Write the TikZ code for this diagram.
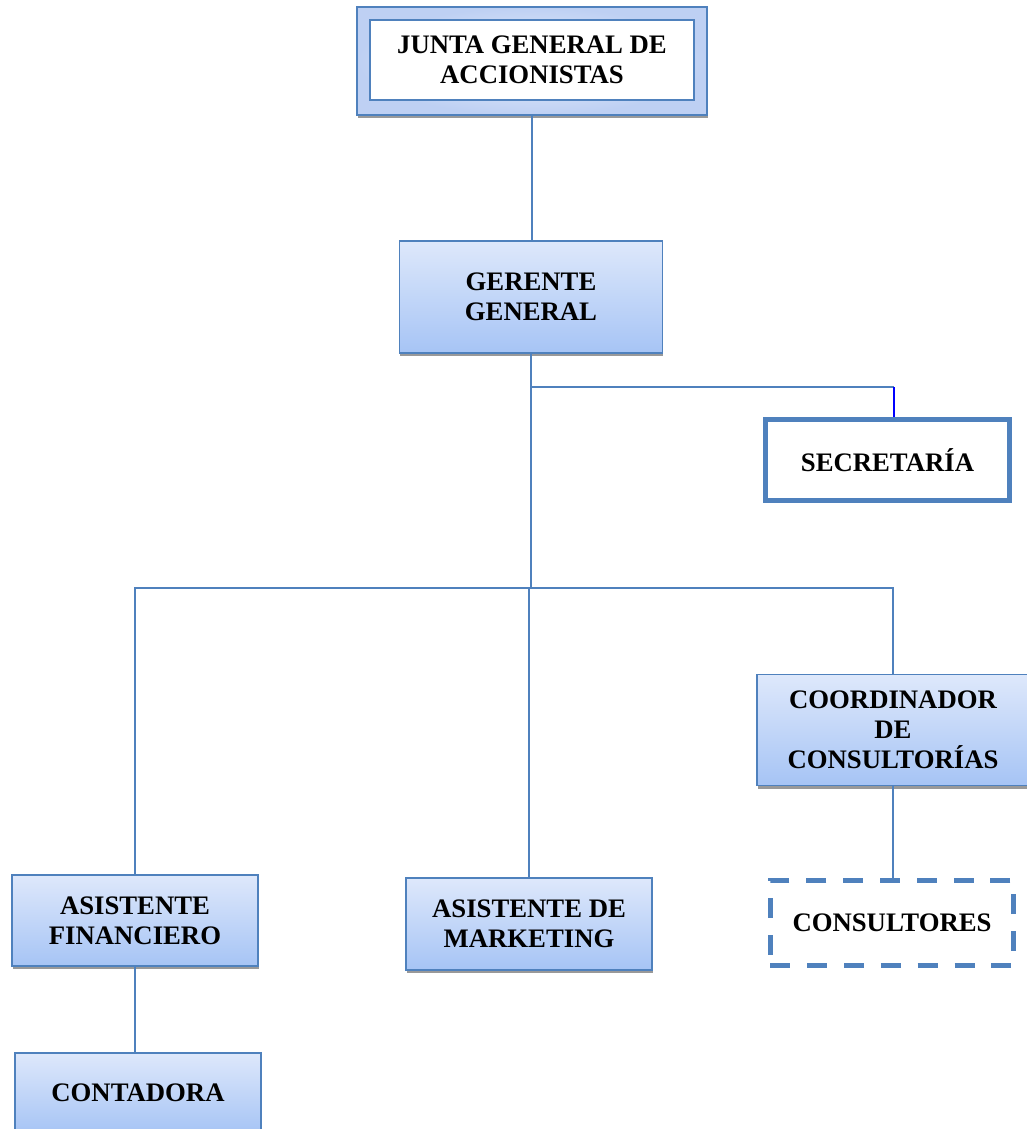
\documentclass[tikz,border=0pt]{standalone}
\usepackage{fontspec}
\setmainfont{Liberation Serif}
\usetikzlibrary{shadows}
\definecolor{LineClr}{RGB}{79,129,189}
\definecolor{BoxTop}{RGB}{222,232,251}
\definecolor{BoxBot}{RGB}{166,196,245}
\definecolor{OuterClr}{RGB}{190,208,243}

\begin{document}
\begin{tikzpicture}[x=0.025cm,y=-0.025cm,
  txt/.style={font=\fontsize{19}{21.5}\selectfont\bfseries,align=center,text=black},
  rolebox/.style={txt,draw=LineClr,line width=1.3pt,top color=BoxTop,bottom color=BoxBot,
    inner sep=0pt,drop shadow={shadow xshift=0.02cm,shadow yshift=-0.08cm,fill=gray!80,opacity=1}},
  link/.style={draw=LineClr,line width=1.4pt}]
\useasboundingbox (0,0) rectangle (1026,1129);

% junta
\node[draw=LineClr,line width=1.3pt,inner color=BoxTop!60,outer color=OuterClr,
  minimum width=8.75cm,minimum height=2.7cm,
  drop shadow={shadow xshift=0.02cm,shadow yshift=-0.08cm,fill=gray!80,opacity=1}] (juntaout) at (532,61) {};
\node[txt,draw=LineClr,line width=1.6pt,fill=white,minimum width=8.1cm,minimum height=2cm,inner sep=0pt]
  (junta) at (532,60) {JUNTA GENERAL DE\\ACCIONISTAS};

\node[rolebox,minimum width=6.575cm,minimum height=2.8cm] (gerente) at (531,297) {GERENTE\\GENERAL};

\node[txt,draw=LineClr,line width=3.5pt,fill=white,minimum width=6.1cm,minimum height=2.025cm]
  (secretaria) at (887.5,460) {SECRETARÍA};

\node[rolebox,minimum width=6.8cm,minimum height=2.775cm] (coord) at (893,730) {COORDINADOR\\DE\\CONSULTORÍAS};
\node[txt,draw=LineClr,line width=3.5pt,dash pattern=on 0.5cm off 0.42cm,fill=white,
  minimum width=6.075cm,minimum height=2.125cm] (consult) at (892,923) {CONSULTORES};

\node[rolebox,minimum width=6.15cm,minimum height=2.275cm] (fin) at (135,920.5) {ASISTENTE\\FINANCIERO};
\node[rolebox,minimum width=6.15cm,minimum height=2.3cm] (mkt) at (529,924) {ASISTENTE DE\\MARKETING};
\node[rolebox,minimum width=6.15cm,minimum height=2cm] (cont) at (138,1093) {CONTADORA};

\coordinate (bus) at (531,588);
\coordinate (sec) at (894,387);

% connectors
\draw[link] (juntaout.south) -- (juntaout.south |- gerente.north);
\draw[link] (gerente.south) -- (bus);
\draw[link] (gerente.south |- sec) -- (sec);
\draw[blue,line width=1.4pt] (sec) -- (sec |- secretaria.north);
\draw[link] (fin.north) -- (fin.north |- bus) -- (coord.north |- bus) -- (coord.north);
\draw[link] (mkt.north |- bus) -- (mkt.north);
\draw[link] (coord.south) -- (coord.south |- consult.north);
\draw[link] (fin.south) -- (fin.south |- cont.north);

\end{tikzpicture}
\end{document}
